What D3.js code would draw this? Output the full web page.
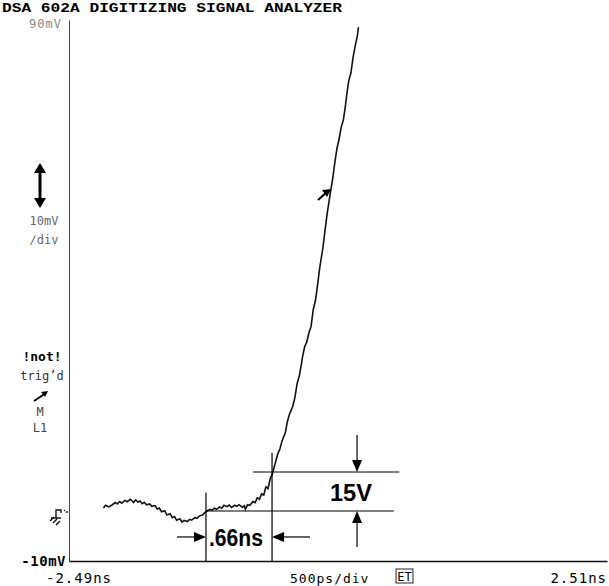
<!DOCTYPE html>
<html>
<head>
<meta charset="utf-8">
<script src="https://cdn.jsdelivr.net/npm/d3@7"></script>
<style>
  body { margin: 0; background: #fff; }
  svg { display: block; }
  .mono { font-family: "DejaVu Sans Mono", monospace; }
</style>
</head>
<body>
<div class="scope"></div>
<script>
// trace: time (ns) vs voltage (mV)
const timeNs = [-2.17, -2.15, -2.12, -2.09, -2.06, -2.04, -2.02, -2.00, -1.97, -1.95,
  -1.92, -1.90, -1.89, -1.87, -1.85, -1.83, -1.81, -1.79, -1.77, -1.74,
  -1.72, -1.69, -1.67, -1.65, -1.63, -1.60, -1.58, -1.55, -1.53, -1.51,
  -1.49, -1.46, -1.44, -1.42, -1.39, -1.37, -1.35, -1.32, -1.30, -1.28,
  -1.25, -1.23, -1.21, -1.18, -1.16, -1.14, -1.12, -1.09, -1.07, -1.05,
  -1.02, -1.00, -0.98, -0.95, -0.93, -0.91, -0.88, -0.86, -0.85, -0.83,
  -0.81, -0.78, -0.76, -0.74, -0.72, -0.70, -0.68, -0.66, -0.64, -0.62,
  -0.60, -0.58, -0.57, -0.55, -0.53, -0.51, -0.48, -0.46, -0.44, -0.41,
  -0.39, -0.37, -0.35, -0.33, -0.32, -0.30, -0.28, -0.26, -0.24, -0.22,
  -0.20, -0.18, -0.16, -0.13, -0.11, -0.09, -0.06, -0.04, -0.02, 0.00,
  0.02, 0.04, 0.06, 0.08, 0.09, 0.11, 0.13, 0.15, 0.17, 0.19, 0.20];
const voltMv = [-0.20, 0.30, 0.00, 0.35, 0.80, 0.55, 1.00, 0.70, 1.20, 0.95,
  1.40, 1.05, 0.80, 1.30, 0.90, 1.10, 0.60, 0.85, 0.40, 0.55,
  0.10, 0.25, -0.40, -0.20, -0.90, -0.70, -1.50, -1.25, -2.00, -1.80,
  -2.45, -2.20, -2.80, -2.50, -2.70, -2.30, -2.45, -2.00, -2.10, -1.70,
  -1.50, -1.10, -0.80, -0.45, -0.60, -0.25, -0.45, 0.00, -0.25, 0.30,
  0.05, 0.35, -0.10, 0.30, 0.10, 0.40, -0.05, 0.20, -0.45, 0.40,
  0.30, 1.00, 0.80, 1.70, 1.40, 2.40, 2.20, 3.70, 3.40, 5.20,
  6.10, 7.60, 8.30, 9.80, 10.70, 12.20, 13.70, 15.80, 17.20, 18.60,
  20.30, 22.80, 24.20, 26.40, 27.70, 29.60, 30.50, 32.20, 33.40, 36.50,
  38.10, 41.00, 44.20, 47.90, 51.20, 54.30, 58.20, 60.60, 63.60, 66.20,
  68.00, 70.20, 71.50, 74.30, 76.00, 78.80, 80.20, 83.10, 85.20, 87.10, 88.70];

// screen limits
const xDomainNs = [-2.49, 2.51];
const yDomainMv = [-10, 90];

// measurement cursors (hand annotations)
const cursorTimes = [-1.217, -0.603];
const cursorVolts = [-0.76, 6.45];
const cursorTimeTops = [2.6, 10.0];
const voltLineEnds = [0.53, 0.58];
const voltLineStarts = [-1.217, -0.78];
const voltArrowT = 0.187;
const timeArrowV = -5.56;

const title = "DSA 602A DIGITIZING SIGNAL ANALYZER";
const xLabels = ["-2.49ns", "500ps/div", "2.51ns"];
const yLabels = ["90mV", "-10mV"];

const W = 609, H = 586;
const svg = d3.select(".scope").append("svg").attr("width", W).attr("height", H);

const x = d3.scaleLinear().domain(xDomainNs).range([69, 607]);
const y = d3.scaleLinear().domain(yDomainMv).range([561, 20]);

// axes: plain lines, no ticks
const yAxis = d3.axisLeft(y).tickValues([]).tickSizeOuter(0);
const xAxis = d3.axisBottom(x).tickValues([]).tickSizeOuter(0);
svg.append("g").attr("transform", "translate(69,0)").call(yAxis)
  .select(".domain").attr("stroke", "#444").attr("stroke-width", 1);
svg.append("g").attr("transform", "translate(0,561)").call(xAxis)
  .select(".domain").attr("stroke", "#111").attr("stroke-width", 1.4);

// title
svg.append("text").attr("x", 2).attr("y", 12)
  .attr("font-family", "Liberation Mono, monospace").attr("font-weight", "bold")
  .attr("font-size", 13).attr("textLength", 340).attr("lengthAdjust", "spacingAndGlyphs")
  .text(title);

// y labels
svg.append("text").attr("class", "mono").attr("x", 62).attr("y", 28)
  .attr("text-anchor", "end").attr("font-size", 12).attr("fill", "#888")
  .attr("letter-spacing", 1).text(yLabels[0]);
svg.append("text").attr("class", "mono").attr("x", 66).attr("y", 566)
  .attr("text-anchor", "end").attr("font-size", 14).attr("font-weight", "bold")
  .attr("letter-spacing", 0.5).text(yLabels[1]);

// x labels
svg.append("text").attr("class", "mono").attr("x", 46).attr("y", 583)
  .attr("font-size", 14).attr("letter-spacing", 1).text(xLabels[0]);
svg.append("text").attr("class", "mono").attr("x", 290).attr("y", 583)
  .attr("font-size", 13).attr("letter-spacing", 1).text(xLabels[1]);
svg.append("text").attr("class", "mono").attr("x", 607).attr("y", 583)
  .attr("text-anchor", "end").attr("font-size", 14).attr("letter-spacing", 1).text(xLabels[2]);
svg.append("rect").attr("x", 396).attr("y", 569).attr("width", 17).attr("height", 14)
  .attr("fill", "none").attr("stroke", "#222").attr("stroke-width", 1);
svg.append("text").attr("class", "mono").attr("x", 404.5).attr("y", 581)
  .attr("text-anchor", "middle").attr("font-size", 12).text("ET");

// left side panel
const side = svg.append("g").attr("class", "mono").attr("text-anchor", "middle");
side.append("line").attr("x1", 40).attr("x2", 40).attr("y1", 166).attr("y2", 205)
  .attr("stroke", "#000").attr("stroke-width", 3);
side.append("path").attr("d", "M34,173 L40,163 L46,173 Z M34,198 L40,208 L46,198 Z").attr("fill", "#000");
side.append("text").attr("x", 44).attr("y", 225).attr("font-size", 12).attr("fill", "#666").text("10mV");
side.append("text").attr("x", 44).attr("y", 244).attr("font-size", 12).attr("fill", "#666").text("\u2215div");
side.append("text").attr("x", 42).attr("y", 361).attr("font-size", 13).attr("font-weight", "bold").text("!not!");
side.append("text").attr("x", 42).attr("y", 380).attr("font-size", 12).attr("fill", "#333").text("trig\u2019d");
side.append("path").attr("d", "M34,401 L46,393").attr("stroke", "#000").attr("stroke-width", 2);
side.append("path").attr("d", "M48,391 L41,392 L45,397 Z").attr("fill", "#000");
side.append("text").attr("x", 40).attr("y", 416).attr("font-size", 12).attr("fill", "#444").text("M");
side.append("text").attr("x", 40).attr("y", 432).attr("font-size", 12).attr("fill", "#444").text("L1");

// ground marker
svg.append("path")
  .attr("d", "M50,521 L54,517 M53,523 L57,519 M56,525 L60,521 M51,518 L61,518 M56,518 L56,510 L61,510 L61,513 M64,510 L65,511 M67,511 L67,513")
  .attr("fill", "none").attr("stroke", "#111").attr("stroke-width", 1.4);

// trace
const pts = timeNs.map((t, i) => [t, voltMv[i]]);
const line = d3.line().x(d => x(d[0])).y(d => y(d[1]));
svg.append("path").datum(pts).attr("d", line)
  .attr("fill", "none").attr("stroke", "#111").attr("stroke-width", 1.6);

// small arrow marker on the trace
const mk = [x(-0.064), y(58.21)];
svg.append("path")
  .attr("d", `M${mk[0] - 12},${mk[1] + 8} L${mk[0] - 2},${mk[1] - 1}`)
  .attr("stroke", "#000").attr("stroke-width", 2.2);
svg.append("path")
  .attr("d", `M${mk[0] + 1},${mk[1] - 3} L${mk[0] - 8},${mk[1] - 2} L${mk[0] - 3},${mk[1] + 5} Z`)
  .attr("fill", "#000");

// measurement cursors
const ann = svg.append("g").attr("stroke", "#000").attr("stroke-width", 1.2);
cursorTimes.forEach((t, i) => {
  ann.append("line").attr("x1", x(t)).attr("x2", x(t))
    .attr("y1", y(cursorTimeTops[i])).attr("y2", y(-10));
});
cursorVolts.forEach((v, i) => {
  ann.append("line").attr("x1", x(voltLineStarts[i])).attr("x2", x(voltLineEnds[i]))
    .attr("y1", y(v)).attr("y2", y(v));
});

function arrow(x1, y1, x2, y2) {
  const a = Math.atan2(y2 - y1, x2 - x1), L = 12, w = 5;
  const bx = x2 - L * Math.cos(a), by = y2 - L * Math.sin(a);
  ann.append("line").attr("x1", x1).attr("y1", y1).attr("x2", bx).attr("y2", by);
  svg.append("path").attr("fill", "#000")
    .attr("d", `M${x2},${y2} L${bx - w * Math.sin(a)},${by + w * Math.cos(a)} L${bx + w * Math.sin(a)},${by - w * Math.cos(a)} Z`);
}
arrow(x(voltArrowT), y(13.3), x(voltArrowT), y(cursorVolts[1]));
arrow(x(voltArrowT), y(-7.4), x(voltArrowT), y(cursorVolts[0]));
arrow(x(-1.486), y(timeArrowV), x(cursorTimes[0]), y(timeArrowV));
arrow(x(-0.25), y(timeArrowV), x(cursorTimes[1]), y(timeArrowV));

svg.append("text").attr("x", 351).attr("y", 501).attr("text-anchor", "middle")
  .attr("font-family", "Liberation Sans, Arial, sans-serif").attr("font-weight", "bold")
  .attr("font-size", 23).attr("textLength", 42).attr("lengthAdjust", "spacingAndGlyphs").text("15V");
svg.append("text").attr("x", 209).attr("y", 546)
  .attr("font-family", "Liberation Sans, Arial, sans-serif").attr("font-weight", "bold")
  .attr("font-size", 23).attr("textLength", 54).attr("lengthAdjust", "spacingAndGlyphs").text(".66ns");
</script>
</body>
</html>
